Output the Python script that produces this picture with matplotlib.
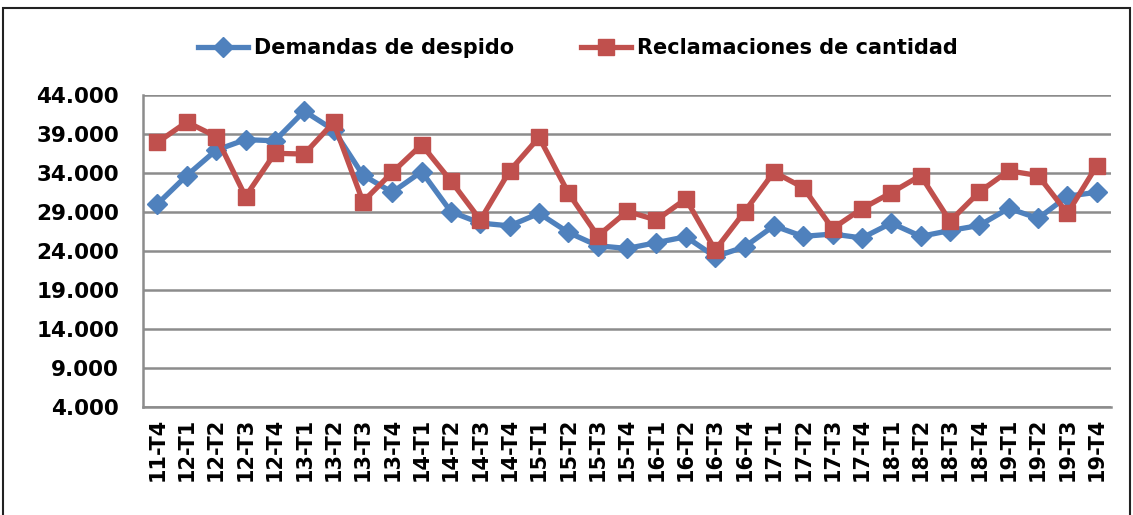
import matplotlib.pyplot as plt
from matplotlib.patches import Rectangle
from matplotlib.ticker import FuncFormatter

plt.rcParams['font.family'] = ['DejaVu Sans']
plt.rcParams['font.weight'] = 'bold'

# datos
trimestres = ['11-T4',
              '12-T1', '12-T2', '12-T3', '12-T4',
              '13-T1', '13-T2', '13-T3', '13-T4',
              '14-T1', '14-T2', '14-T3', '14-T4',
              '15-T1', '15-T2', '15-T3', '15-T4',
              '16-T1', '16-T2', '16-T3', '16-T4',
              '17-T1', '17-T2', '17-T3', '17-T4',
              '18-T1', '18-T2', '18-T3', '18-T4',
              '19-T1', '19-T2', '19-T3', '19-T4']
despidos = [30000, 33650, 36900, 38250, 38100, 41900, 39500, 33700, 31500, 34150,
            29000, 27550, 27200, 28800, 26350, 24650, 24300, 25050, 25800, 23250,
            24500, 27200, 25850, 26150, 25650, 27550, 25850, 26600, 27250, 29450,
            28150, 31000, 31500]
cantidad = [37900, 40500, 38650, 30950, 36500, 36400, 40450, 30300, 34050, 37600,
            32950, 27950, 34250, 38550, 31400, 25900, 29050, 27950, 30650, 24100,
            29000, 34100, 32100, 26850, 29400, 31450, 33650, 27800, 31550, 34250,
            33650, 28800, 34900]

azul = '#4F81BD'
rojo = '#C0504D'

fig = plt.figure(figsize=(11.33, 5.15), dpi=100)
ax = fig.add_axes([0.126, 0.21, 0.855, 0.606])

x = range(len(trimestres))
ax.plot(x, despidos, color=azul, linewidth=3.8, marker='D', markersize=10,
        label='Demandas de despido', zorder=3)
ax.plot(x, cantidad, color=rojo, linewidth=3.8, marker='s', markersize=12,
        label='Reclamaciones de cantidad', zorder=3)

ax.set_xlim(-0.5, len(trimestres) - 0.5)
ax.set_ylim(4000, 44000)
ax.set_yticks(range(4000, 44001, 5000))
ax.yaxis.set_major_formatter(FuncFormatter(lambda v, p: f'{int(v):,}'.replace(',', '.')))
ax.set_xticks(list(x))
ax.set_xticklabels(trimestres, rotation=90)

ax.grid(axis='y', color='#8C8C8C', linewidth=1.8)
ax.set_axisbelow(True)
for s in ['top', 'right']:
    ax.spines[s].set_visible(False)
for s in ['left', 'bottom']:
    ax.spines[s].set_color('#8C8C8C')
    ax.spines[s].set_linewidth(1.8)

ax.tick_params(axis='y', length=0, pad=17, labelsize=15.5)
ax.tick_params(axis='x', length=0, pad=8, labelsize=15)

fig.legend(loc='upper center', bbox_to_anchor=(0.51, 0.962), ncol=2, frameon=False,
           fontsize=15, handlelength=2.4, columnspacing=3.2, handletextpad=0.3)

# marco del gráfico
fig.patches.append(Rectangle((0.003, -0.01), 0.994, 0.995, transform=fig.transFigure,
                             fill=False, edgecolor='#222222', linewidth=1.5))

plt.savefig('out.png', dpi=100)
